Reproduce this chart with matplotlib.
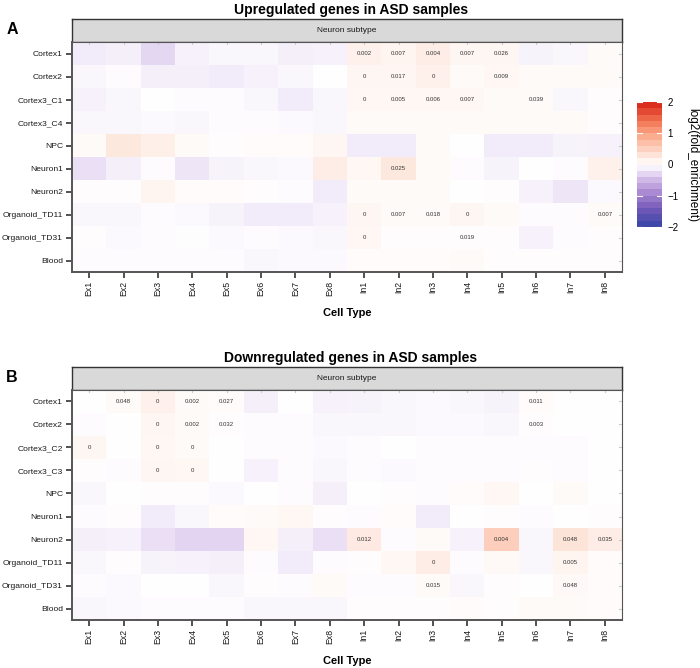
import numpy as np
import matplotlib
matplotlib.use("Agg")
import matplotlib.pyplot as plt
from matplotlib.colors import LinearSegmentedColormap, Normalize
from matplotlib.cm import ScalarMappable
from matplotlib.transforms import blended_transform_factory

plt.rcParams['font.family'] = ['Liberation Sans', 'DejaVu Sans']

# --- data -------------------------------------------------------------
cell_types = ["Ex1", "Ex2", "Ex3", "Ex4", "Ex5", "Ex6", "Ex7", "Ex8",
              "In1", "In2", "In3", "In4", "In5", "In6", "In7", "In8"]

rows_up = ["Cortex1", "Cortex2", "Cortex3_C1", "Cortex3_C4", "NPC", "Neuron1",
           "Neuron2", "Organoid_TD11", "Organoid_TD31", "Blood"]

up_values = [
    [-0.15, -0.12, -0.30, -0.10, -0.05, -0.05, -0.12, -0.10, 0.15, 0.12, 0.20, 0.10, 0.10, -0.08, -0.05, 0.05],
    [-0.05, -0.03, -0.12, -0.12, -0.15, -0.10, -0.05, 0.00, 0.10, 0.10, 0.15, 0.05, 0.08, 0.05, 0.05, 0.05],
    [-0.10, -0.05, 0.00, -0.03, -0.02, -0.05, -0.15, -0.05, 0.08, 0.08, 0.08, 0.08, 0.05, 0.05, -0.05, 0.02],
    [-0.06, -0.05, -0.04, -0.05, -0.03, -0.03, -0.04, -0.05, 0.05, 0.05, 0.05, 0.05, 0.05, 0.05, 0.05, 0.03],
    [0.06, 0.25, 0.18, 0.06, 0.02, 0.04, 0.04, 0.10, -0.15, -0.15, 0.05, 0.00, -0.15, -0.15, -0.08, -0.10],
    [-0.25, -0.12, -0.03, -0.20, -0.08, -0.05, -0.04, 0.20, 0.08, 0.25, 0.05, -0.03, -0.08, 0.00, -0.03, 0.15],
    [0.03, 0.03, 0.12, 0.04, 0.04, 0.02, -0.02, -0.15, 0.05, 0.06, 0.05, 0.00, 0.02, -0.10, -0.20, -0.04],
    [-0.06, -0.06, -0.02, -0.04, -0.08, -0.15, -0.15, -0.10, 0.10, 0.06, 0.06, 0.10, 0.05, -0.03, -0.02, 0.05],
    [0.02, -0.04, -0.02, -0.01, -0.04, -0.02, -0.04, -0.05, 0.08, 0.03, 0.03, 0.03, 0.02, -0.10, -0.02, 0.03],
    [-0.03, -0.03, -0.02, -0.02, -0.02, -0.05, -0.04, -0.04, 0.04, 0.04, 0.04, 0.05, 0.03, 0.03, 0.03, 0.03],
]

up_pvals = [
    ("Cortex1", "In1", "0.002"), ("Cortex1", "In2", "0.007"), ("Cortex1", "In3", "0.004"),
    ("Cortex1", "In4", "0.007"), ("Cortex1", "In5", "0.026"),
    ("Cortex2", "In1", "0"), ("Cortex2", "In2", "0.017"), ("Cortex2", "In3", "0"),
    ("Cortex2", "In5", "0.009"),
    ("Cortex3_C1", "In1", "0"), ("Cortex3_C1", "In2", "0.005"), ("Cortex3_C1", "In3", "0.006"),
    ("Cortex3_C1", "In4", "0.007"), ("Cortex3_C1", "In6", "0.039"),
    ("Neuron1", "In2", "0.025"),
    ("Organoid_TD11", "In1", "0"), ("Organoid_TD11", "In2", "0.007"), ("Organoid_TD11", "In3", "0.018"),
    ("Organoid_TD11", "In4", "0"), ("Organoid_TD11", "In8", "0.007"),
    ("Organoid_TD31", "In1", "0"), ("Organoid_TD31", "In4", "0.019"),
]

rows_down = ["Cortex1", "Cortex2", "Cortex3_C2", "Cortex3_C3", "NPC", "Neuron1",
             "Neuron2", "Organoid_TD11", "Organoid_TD31", "Blood"]

down_values = [
    [0.00, 0.05, 0.15, 0.06, 0.04, -0.12, 0.00, -0.10, -0.08, -0.05, -0.04, -0.05, -0.08, 0.04, 0.00, 0.00],
    [-0.02, 0.00, 0.10, 0.05, 0.03, -0.02, -0.03, -0.06, -0.05, -0.06, -0.04, -0.04, -0.06, 0.02, 0.00, 0.00],
    [0.10, 0.00, 0.08, 0.06, 0.00, -0.03, -0.02, -0.04, -0.03, 0.00, -0.02, -0.02, -0.03, -0.03, -0.03, 0.00],
    [0.02, -0.03, 0.10, 0.08, 0.00, -0.10, -0.02, -0.06, -0.02, -0.04, -0.02, -0.02, -0.02, 0.02, -0.03, 0.00],
    [-0.06, 0.00, 0.03, 0.02, -0.04, 0.00, -0.03, -0.12, 0.00, 0.03, -0.03, 0.04, 0.08, 0.00, 0.05, 0.00],
    [-0.03, 0.03, -0.15, -0.06, 0.04, 0.05, 0.08, 0.03, -0.02, 0.04, -0.15, 0.00, 0.03, -0.02, 0.00, 0.02],
    [-0.12, -0.10, -0.25, -0.32, -0.32, 0.08, -0.12, -0.25, 0.22, -0.03, 0.05, -0.10, 0.55, -0.05, 0.30, 0.20],
    [-0.06, 0.03, -0.08, -0.10, -0.12, -0.03, -0.15, -0.03, 0.03, 0.08, 0.20, -0.02, 0.07, -0.05, 0.12, 0.04],
    [-0.03, -0.04, 0.00, 0.01, -0.05, 0.02, -0.03, 0.05, -0.02, -0.02, 0.05, -0.05, 0.02, 0.00, 0.07, 0.04],
    [-0.05, -0.04, -0.02, -0.02, -0.02, -0.05, -0.05, -0.05, 0.02, 0.02, 0.02, 0.04, 0.03, 0.06, 0.06, 0.04],
]

down_pvals = [
    ("Cortex1", "Ex2", "0.048"), ("Cortex1", "Ex3", "0"), ("Cortex1", "Ex4", "0.002"),
    ("Cortex1", "Ex5", "0.027"), ("Cortex1", "In6", "0.011"),
    ("Cortex2", "Ex3", "0"), ("Cortex2", "Ex4", "0.002"), ("Cortex2", "Ex5", "0.032"),
    ("Cortex2", "In6", "0.003"),
    ("Cortex3_C2", "Ex1", "0"), ("Cortex3_C2", "Ex3", "0"), ("Cortex3_C2", "Ex4", "0"),
    ("Cortex3_C3", "Ex3", "0"), ("Cortex3_C3", "Ex4", "0"),
    ("Neuron2", "In1", "0.012"), ("Neuron2", "In5", "0.004"), ("Neuron2", "In7", "0.048"),
    ("Neuron2", "In8", "0.035"),
    ("Organoid_TD11", "In3", "0"), ("Organoid_TD11", "In7", "0.005"),
    ("Organoid_TD31", "In3", "0.015"), ("Organoid_TD31", "In7", "0.048"),
]

# colour scale (blue -> white -> red, Lab-like purple tint)
cmap = LinearSegmentedColormap.from_list("div", [
    (0.000, "#3F48A8"), (0.125, "#7358B8"), (0.250, "#A585D0"),
    (0.375, "#D3BCE8"), (0.4375, "#EADFF5"), (0.500, "#FFFFFF"),
    (0.5625, "#FEE9E0"), (0.625, "#FDD3C2"), (0.750, "#FBA88A"),
    (0.875, "#F0704F"), (1.000, "#DB2E1F")])
norm = Normalize(vmin=-2, vmax=2)

W, H = 700, 668
fig = plt.figure(figsize=(W / 100, H / 100), dpi=100)


def fx(px):
    return px / W


def fy(px):
    return 1 - px / H


def draw_panel(top, rows, values, pvals, title, letter):
    # strip
    sax = fig.add_axes([fx(72), fy(top + 23), fx(550), 23 / H])
    sax.set_facecolor("#D9D9D9")
    sax.set_xticks([])
    sax.set_yticks([])
    for s in sax.spines.values():
        s.set_color("#333333")
        s.set_linewidth(1.0)
    sax.text(0.5, 0.5, "Neuron subtype", ha="center", va="center", fontsize=6,
             color="#1A1A1A", transform=sax.transAxes)

    ax = fig.add_axes([fx(72), fy(top + 253), fx(550), 230 / H])
    ax.imshow(np.array(values), cmap=cmap, norm=norm, aspect="auto",
              interpolation="nearest")
    for r, c, txt in pvals:
        ax.text(cell_types.index(c), rows.index(r), txt, ha="center", va="center",
                fontsize=4.3, color="#333333")
    ax.set_xticks(range(len(cell_types)))
    ax.set_xticklabels(cell_types, rotation=90, fontsize=6.3, color="#1A1A1A")
    ax.set_yticks(range(len(rows)))
    ax.set_yticklabels(rows, fontsize=6.1, color="#1A1A1A")
    ax.tick_params(axis="both", length=4, width=1.2, color="#333333", pad=2.5)
    for s in ["left", "bottom"]:
        ax.spines[s].set_color("#555555")
        ax.spines[s].set_linewidth(1.4)
    for s in ["top", "right"]:
        ax.spines[s].set_color("#555555")
        ax.spines[s].set_linewidth(0.8)
    # faint inner ticks on top and right
    for x in range(len(cell_types)):
        ax.plot([x, x], [-0.5, -0.42], color="#CCCCCC", lw=0.8, clip_on=False)
    for y in range(len(rows)):
        ax.plot([15.42, 15.5], [y, y], color="#CCCCCC", lw=0.8, clip_on=False)
    ax.set_xlim(-0.5, 15.5)
    ax.set_ylim(len(rows) - 0.5, -0.5)

    fig.text(fx(347), fy(top + 294), "Cell Type", ha="center", va="center",
             fontsize=8, fontweight="bold")
    fig.text(fx(351), fy(top - 9), title, ha="center", va="center",
             fontsize=10, fontweight="bold")
    fig.text(fx(12), fy(top + 10), letter, ha="center", va="center",
             fontsize=11.5, fontweight="bold")


draw_panel(19, rows_up, up_values, up_pvals, "Upregulated genes in ASD samples", "A")
draw_panel(367, rows_down, down_values, down_pvals, "Downregulated genes in ASD samples", "B")

# colour bar
cax = fig.add_axes([fx(637), fy(227), fx(25), 125 / H])
sm = ScalarMappable(norm=norm, cmap=cmap.resampled(20))
cb = fig.colorbar(sm, cax=cax, ticks=[-2, -1, 0, 1, 2])
cb.outline.set_visible(False)
cb.ax.tick_params(length=0, labelsize=7, pad=4)
tr = blended_transform_factory(cb.ax.transAxes, cb.ax.transData)
for v in [-2, -1, 1, 2]:
    cb.ax.plot([0, 0.2], [v, v], color="white", lw=0.8, transform=tr)
    cb.ax.plot([0.8, 1], [v, v], color="white", lw=0.8, transform=tr)
fig.text(fx(692), fy(165), "log2(fold_enrichment)", rotation=270, ha="center",
         va="center", fontsize=8.5)

fig.savefig("out.png", dpi=100)
